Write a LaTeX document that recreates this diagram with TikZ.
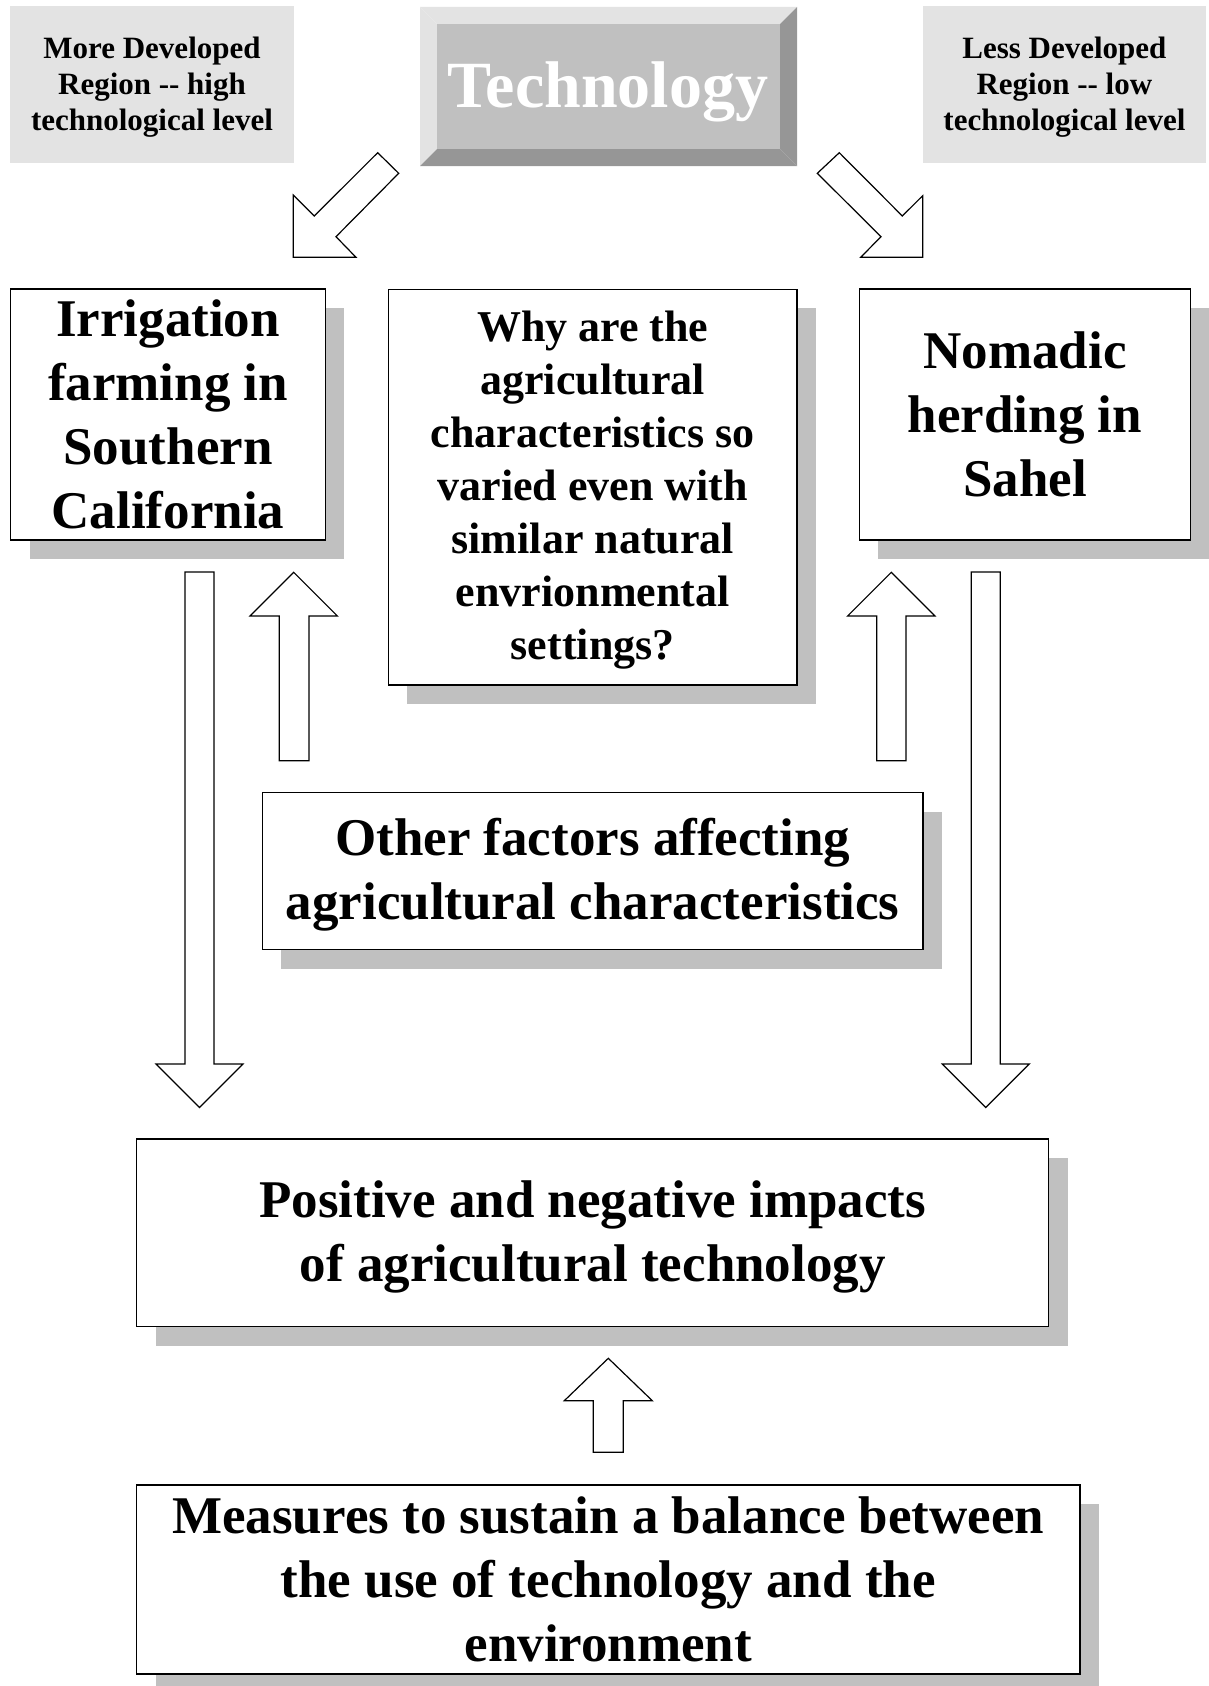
\documentclass[tikz,border=0pt]{standalone}
\usepackage{fontspec}
\setmainfont{Liberation Serif}
\usetikzlibrary{shadows}
\definecolor{shgray}{HTML}{C0C0C0}
\definecolor{lightg}{HTML}{E3E3E3}
\definecolor{darkg}{HTML}{969696}
\definecolor{faceg}{HTML}{C0C0C0}
\begin{document}
\begin{tikzpicture}[x=1pt,y=-1pt,
  box/.style={draw=black, line width=1.3pt, fill=white, inner sep=0pt, align=center,
    drop shadow={shadow xshift=19pt,shadow yshift=-19pt,fill=shgray,opacity=1}},
  bigtxt/.style={font=\fontsize{53}{64}\selectfont\bfseries},
  midtxt/.style={font=\fontsize{44}{53}\selectfont\bfseries},
  smalltxt/.style={font=\fontsize{31}{36}\selectfont\bfseries},
  label/.style={fill=lightg, inner sep=0pt, align=center, smalltxt},
  blockarrow/.style={draw=black, line width=1.2pt, fill=white, line join=miter}
]
\useasboundingbox (0,0) rectangle (1209,1686);

% Technology bevel button
\fill[lightg] (420,7) -- (797,7) -- (780,24) -- (437,24) -- cycle;
\fill[lightg] (420,7) -- (437,24) -- (437,149) -- (420,166) -- cycle;
\fill[darkg] (797,7) -- (797,166) -- (780,149) -- (780,24) -- cycle;
\fill[darkg] (420,166) -- (797,166) -- (780,149) -- (437,149) -- cycle;
\fill[faceg] (437,24) rectangle (780,149);
\node[text=white, font=\fontsize{66}{70}\selectfont\bfseries, inner sep=0pt] (tech) at (608,92) {Technology};

% region labels
\node[label, minimum width=284pt, minimum height=157pt] (more) at (152,84.5) {};
\node[smalltxt, align=center, inner sep=0pt] at (152,87)
  {More Developed\\Region -{}- high\\technological level};
\node[label, minimum width=283pt, minimum height=157pt] (less) at (1064.4,84.5) {};
\node[smalltxt, align=center, inner sep=0pt] at (1064.4,87)
  {Less Developed\\Region -{}- low\\technological level};

% main boxes
\node[box, bigtxt, minimum width=314.5pt, minimum height=251pt] (irr) at (168,414.5)
  {Irrigation\\farming in\\Southern\\California};
\node[box, minimum width=408.7pt, minimum height=395.7pt] (why) at (592.7,487.2) {};
\node[midtxt, align=center, inner sep=0pt] at (592.7,490.5)
  {Why are the\\agricultural\\characteristics so\\varied even with\\similar natural\\envrionmental\\settings?};
\node[box, bigtxt, minimum width=331.3pt, minimum height=251pt] (nom) at (1025,414.5)
  {Nomadic\\herding in\\Sahel};
\node[box, minimum width=660.5pt, minimum height=157pt] (other) at (592.7,871.2) {};
\node[bigtxt, align=center, inner sep=0pt] at (592.7,875)
  {Other factors affecting\\agricultural characteristics};
\node[box, minimum width=912.2pt, minimum height=187.7pt] (pos) at (592.7,1232.9) {};
\node[bigtxt, align=center, inner sep=0pt] at (592.7,1237)
  {Positive and negative impacts\\of agricultural technology};
\node[box, bigtxt, minimum width=943.4pt, minimum height=189pt] (meas) at (608.3,1579.5)
  {Measures to sustain a balance between\\the use of technology and the\\environment};

% diagonal block arrows from Technology
\draw[blockarrow] (377.7,152.7) -- (398.7,173.3) -- (336,236.7) -- (356,257.3)
  -- (293.3,257.3) -- (293.3,195) -- (314.3,216) -- cycle;
\draw[blockarrow] (839.3,152.7) -- (817.3,173.3) -- (881,236.7) -- (860.7,257.3)
  -- (922.7,257.3) -- (922.7,195.7) -- (902.3,216) -- cycle;

% long down arrows
\draw[blockarrow] (185,572) -- (214,572) -- (214,1064) -- (243,1064) -- (199.5,1107.5)
  -- (156,1064) -- (185,1064) -- cycle;
\draw[blockarrow] (971.3,572) -- (1000.3,572) -- (1000.3,1064) -- (1029.3,1064) -- (985.8,1107.5)
  -- (942.3,1064) -- (971.3,1064) -- cycle;

% up arrows from Other factors
\draw[blockarrow] (279.3,760.7) -- (279.3,616) -- (250,616) -- (293.7,572.3)
  -- (337.4,616) -- (309,616) -- (309,760.7) -- cycle;
\draw[blockarrow] (876.7,760.7) -- (876.7,616) -- (847.6,616) -- (891.3,572.3)
  -- (935,616) -- (906,616) -- (906,760.7) -- cycle;

% up arrow from Measures to Positive
\draw[blockarrow] (593.3,1452.3) -- (593.3,1400.7) -- (564.3,1400.7) -- (608.3,1358.3)
  -- (652.3,1400.7) -- (623.3,1400.7) -- (623.3,1452.3) -- cycle;
\end{tikzpicture}
\end{document}
